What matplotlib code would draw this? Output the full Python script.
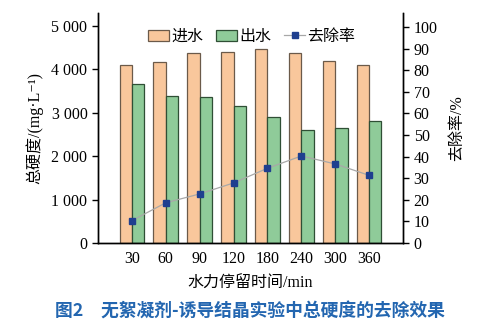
import matplotlib
matplotlib.use('Agg')
import matplotlib.pyplot as plt
import numpy as np
from matplotlib.ticker import FuncFormatter

plt.rcParams['font.family'] = ['Liberation Serif', 'Noto Sans CJK SC', 'DejaVu Sans']

# 水力停留时间 (min) 与进出水总硬度 (mg/L)、去除率 (%)
hrt = ['30', '60', '90', '120', '180', '240', '300', '360']
inflow = [4100, 4170, 4370, 4400, 4480, 4385, 4190, 4100]
outflow = [3660, 3380, 3360, 3160, 2910, 2600, 2650, 2805]
removal = [10.3, 18.6, 22.7, 27.8, 34.6, 40.3, 36.6, 31.3]

fig = plt.figure(figsize=(4.99, 3.27), dpi=100)
ax = fig.add_axes([0.196, 0.257, 0.612, 0.703])
ax2 = ax.twinx()

x = np.arange(len(hrt))
w = 0.36
b1 = ax.bar(x - w / 2, inflow, w, color='#f9c79c', edgecolor='#6b5a4a', linewidth=0.9, label='进水')
b2 = ax.bar(x + w / 2, outflow, w, color='#8fcb99', edgecolor='#2f4f35', linewidth=0.9, label='出水')
l1, = ax2.plot(x, removal, color='#a8a8a8', linewidth=0.9, marker='s',
               markersize=4, markerfacecolor='#1f3f8f', markeredgecolor='#1f3f8f', label='去除率')
ax.set_zorder(ax2.get_zorder() - 1)
ax.patch.set_visible(False)
ax2.patch.set_visible(False)

ax.set_xlim(-1, 8)
ax.set_ylim(0, 5300)
ax2.set_ylim(0, 106.5)
ax.set_yticks([0, 1000, 2000, 3000, 4000, 5000])
ax.yaxis.set_major_formatter(FuncFormatter(lambda v, p: '{:,}'.format(int(v)).replace(',', ' ')))
ax2.set_yticks(range(0, 101, 10))
ax.set_xticks(x)
ax.set_xticklabels(hrt)

for a in (ax, ax2):
    a.spines['top'].set_visible(False)
    for s in a.spines.values():
        s.set_linewidth(1.0)
    a.tick_params(labelsize=11.5, width=1.0, length=4, direction='out')
ax.tick_params(axis='x', length=0, pad=6)

ax.set_ylabel('总硬度/(mg·L⁻¹)', fontsize=11.5, labelpad=6)
ax2.set_ylabel('去除率/%', fontsize=11.5, labelpad=8, rotation=90)
ax.set_xlabel('水力停留时间/min', fontsize=11.5, labelpad=6)

fig.legend([b1, b2, l1], ['进水', '出水', '去除率'], loc='center left',
           bbox_to_anchor=(0.291, 0.887), ncol=3, frameon=False, fontsize=11.5,
           handlelength=1.3, handleheight=0.7, handletextpad=0.15, columnspacing=0.8,
           borderpad=0.2, borderaxespad=0)

fig.text(0.5, 0.046, '图2\u3000无絮凝剂-诱导结晶实验中总硬度的去除效果', ha='center', va='center',
         fontsize=12.8, fontweight='bold', color='#2366b0', family=['Noto Sans CJK SC', 'DejaVu Sans'])

fig.savefig('out.png', dpi=100)
